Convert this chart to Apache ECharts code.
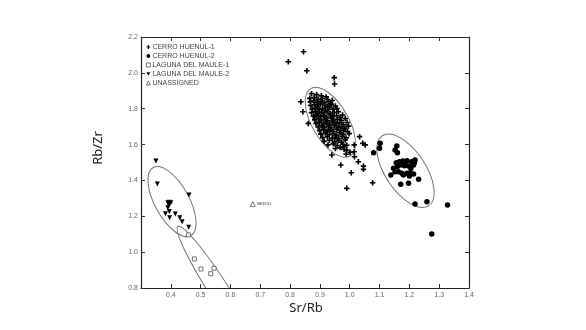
<!DOCTYPE html>
<html>
<head>
<meta charset="utf-8">
<script src="https://cdn.jsdelivr.net/npm/echarts@6/dist/echarts.min.js"></script>
<style>
  html, body { margin: 0; padding: 0; background: #fff; }
  #chart { width: 586px; height: 330px; }
</style>
</head>
<body>
<div id="chart"></div>
<script>
// axis ticks
const xTicks = { min: 0.3, max: 1.4, step: 0.1 };
const yTicks = { min: 0.8, max: 2.2, step: 0.2 };

const legendNames = ["CERRO HUENUL-1", "CERRO HUENUL-2", "LAGUNA DEL MAULE-1", "LAGUNA DEL MAULE-2", "UNASSIGNED"];

// Sr/Rb, Rb/Zr pairs
const cerroHuenul1 = [
  [0.794, 2.062], [0.845, 2.118], [0.856, 2.012], [0.948, 1.973], [0.949, 1.938],
  [0.836, 1.839], [0.843, 1.783], [0.861, 1.718],
  [0.872, 1.884], [0.889, 1.879], [0.905, 1.872], [0.921, 1.866],
  [0.866, 1.858], [0.881, 1.862], [0.894, 1.853], [0.908, 1.857], [0.926, 1.851], [0.941, 1.846],
  [0.868, 1.838], [0.879, 1.844], [0.891, 1.835], [0.903, 1.841], [0.914, 1.834], [0.928, 1.839], [0.937, 1.829],
  [0.869, 1.818], [0.882, 1.823], [0.894, 1.814], [0.902, 1.826], [0.917, 1.819], [0.925, 1.812], [0.938, 1.822], [0.952, 1.815],
  [0.874, 1.798], [0.886, 1.804], [0.897, 1.795], [0.909, 1.802], [0.918, 1.793], [0.931, 1.806], [0.944, 1.797], [0.957, 1.801],
  [0.872, 1.778], [0.884, 1.784], [0.893, 1.774], [0.906, 1.781], [0.915, 1.776], [0.927, 1.785], [0.936, 1.772], [0.948, 1.779], [0.962, 1.783],
  [0.878, 1.758], [0.889, 1.764], [0.901, 1.755], [0.912, 1.762], [0.922, 1.753], [0.934, 1.766], [0.943, 1.757], [0.956, 1.761], [0.968, 1.752], [0.976, 1.765],
  [0.883, 1.738], [0.895, 1.744], [0.904, 1.735], [0.917, 1.742], [0.926, 1.733], [0.938, 1.746], [0.947, 1.737], [0.959, 1.741], [0.972, 1.734], [0.985, 1.745],
  [0.887, 1.718], [0.898, 1.724], [0.911, 1.715], [0.921, 1.722], [0.933, 1.713], [0.942, 1.726], [0.954, 1.717], [0.966, 1.721], [0.978, 1.712], [0.991, 1.723],
  [0.894, 1.698], [0.906, 1.704], [0.915, 1.695], [0.928, 1.702], [0.937, 1.693], [0.949, 1.706], [0.961, 1.697], [0.973, 1.701], [0.984, 1.692], [0.996, 1.703],
  [0.899, 1.678], [0.912, 1.684], [0.924, 1.675], [0.935, 1.682], [0.946, 1.673], [0.957, 1.686], [0.969, 1.677], [0.981, 1.681], [0.993, 1.672],
  [0.903, 1.658], [0.918, 1.664], [0.931, 1.655], [0.944, 1.662], [0.955, 1.653], [0.967, 1.666], [0.978, 1.657], [0.998, 1.661],
  [0.909, 1.638], [0.925, 1.644], [0.941, 1.635], [0.952, 1.642], [0.963, 1.633], [0.975, 1.646], [0.988, 1.637],
  [0.914, 1.618], [0.932, 1.624], [0.948, 1.615], [0.961, 1.622], [0.972, 1.613], [0.985, 1.626],
  [0.927, 1.598], [0.945, 1.604], [0.958, 1.595], [0.977, 1.602], [0.990, 1.596],
  [0.952, 1.578], [0.968, 1.583], [0.981, 1.574],
  [0.940, 1.542], [0.970, 1.486], [0.990, 1.356], [1.005, 1.443], [1.016, 1.532], [1.029, 1.504],
  [1.046, 1.480], [1.046, 1.462], [1.077, 1.387], [0.988, 1.547], [1.001, 1.557], [1.015, 1.560],
  [1.015, 1.598], [1.033, 1.644], [1.044, 1.607], [1.052, 1.598], [0.990, 1.570], [0.979, 1.588]
];

const cerroHuenul2 = [
  [1.102, 1.607], [1.100, 1.579], [1.080, 1.555], [1.158, 1.592], [1.152, 1.570], [1.160, 1.555],
  [1.156, 1.499], [1.167, 1.504], [1.178, 1.508], [1.192, 1.510], [1.208, 1.504], [1.217, 1.499],
  [1.219, 1.514], [1.186, 1.499], [1.160, 1.477], [1.169, 1.486], [1.183, 1.482], [1.197, 1.480],
  [1.214, 1.486], [1.205, 1.468], [1.147, 1.468], [1.152, 1.449], [1.163, 1.449], [1.175, 1.440],
  [1.192, 1.440], [1.203, 1.443], [1.214, 1.436], [1.200, 1.425], [1.180, 1.430], [1.138, 1.430],
  [1.231, 1.406], [1.171, 1.378], [1.197, 1.384], [1.219, 1.268], [1.259, 1.281], [1.328, 1.263],
  [1.275, 1.101]
];

const lagunaMaule1 = [
  [0.459, 1.096], [0.479, 0.962], [0.501, 0.906], [0.534, 0.880], [0.545, 0.910]
];

const lagunaMaule2 = [
  [0.350, 1.508], [0.355, 1.380], [0.461, 1.319], [0.390, 1.276], [0.395, 1.278], [0.400, 1.276],
  [0.394, 1.261], [0.390, 1.248], [0.395, 1.226], [0.382, 1.214], [0.396, 1.192], [0.415, 1.213],
  [0.430, 1.192], [0.438, 1.170], [0.460, 1.139]
];

const unassigned = [[0.675, 1.268, "NE3531"]];

// group ellipses: centre x, centre y, end of major axis x, y, minor/major ratio
const ellipses = [
  [0.935, 1.724, 1.001, 1.536, 0.465],
  [1.187, 1.454, 1.265, 1.259, 0.48],
  [0.404, 1.282, 0.467, 1.092, 0.44],
  [0.562, 0.785, 0.424, 1.143, 0.13]
];

const ink = "#000";
const plus = "path://M3.5,0 L6.5,0 L6.5,3.5 L10,3.5 L10,6.5 L6.5,6.5 L6.5,10 L3.5,10 L3.5,6.5 L0,6.5 L0,3.5 L3.5,3.5 Z";
const downTri = "path://M0,0 L10,0 L5,9 Z";
const solid = { color: ink, opacity: 1 };
const hollow = { color: "#fff", borderColor: "#555", borderWidth: 0.8, opacity: 1 };

const chart = echarts.init(document.getElementById("chart"), null, { renderer: "canvas" });

const tickFmt = v => v.toFixed(1);
const axisLine = { show: true, lineStyle: { color: "#222", width: 1.2 } };
const axisTick = { show: true, inside: true, length: 4, lineStyle: { color: "#333", width: 1 } };

const option = {
  backgroundColor: "#fff",
  animation: false,
  textStyle: { fontFamily: "Liberation Sans, Arial, sans-serif" },
  grid: { left: 141, right: 117, top: 37, bottom: 42, containLabel: false },
  legend: {
    data: [
      { name: legendNames[0], icon: plus },
      { name: legendNames[1], icon: "circle" },
      { name: legendNames[2], icon: "rect", itemStyle: hollow },
      { name: legendNames[3], icon: downTri },
      { name: legendNames[4], icon: "triangle", itemStyle: hollow }
    ],
    orient: "vertical",
    left: 146,
    top: 43,
    itemWidth: 4,
    itemHeight: 4,
    itemGap: 1,
    padding: 0,
    textStyle: { fontSize: 7, color: "#444", padding: [0, 0, 0, -3], lineHeight: 8 },
    selectedMode: false
  },
  xAxis: [
    {
      type: "value", position: "bottom",
      min: xTicks.min, max: xTicks.max, interval: xTicks.step,
      axisLine, axisTick, splitLine: { show: false },
      axisLabel: { formatter: tickFmt, fontSize: 7, color: "#666", margin: 4, showMinLabel: false }
    },
    {
      type: "value", position: "top",
      min: xTicks.min, max: xTicks.max, interval: xTicks.step,
      axisLine, axisTick, splitLine: { show: false }, axisLabel: { show: false }
    }
  ],
  yAxis: [
    {
      type: "value", position: "left",
      min: yTicks.min, max: yTicks.max, interval: yTicks.step,
      axisLine, axisTick, splitLine: { show: false },
      axisLabel: { formatter: tickFmt, fontSize: 7, color: "#666", margin: 3 }
    },
    {
      type: "value", position: "right",
      min: yTicks.min, max: yTicks.max, interval: yTicks.step,
      axisLine, axisTick, splitLine: { show: false }, axisLabel: { show: false }
    }
  ],
  graphic: [
    {
      type: "text", x: 98, y: 148, rotation: Math.PI / 2,
      style: { text: "Rb/Zr", fontSize: 13, fill: "#222", align: "center", verticalAlign: "middle", fontFamily: "Noto Sans" }
    },
    {
      type: "text", x: 306, y: 308,
      style: { text: "Sr/Rb", fontSize: 13, fill: "#222", align: "center", verticalAlign: "middle", fontFamily: "Noto Sans" }
    }
  ],
  series: [
    {
      name: "ellipses",
      type: "custom",
      clip: true,
      silent: true,
      encode: { x: [0, 2], y: [1, 3] },
      data: ellipses,
      renderItem: (params, api) => {
        const c = api.coord([api.value(0), api.value(1)]);
        const e = api.coord([api.value(2), api.value(3)]);
        const dx = e[0] - c[0], dy = e[1] - c[1];
        const a = Math.hypot(dx, dy);
        return {
          type: "ellipse",
          x: c[0], y: c[1],
          rotation: -Math.atan2(dy, dx),
          shape: { cx: 0, cy: 0, rx: a, ry: a * api.value(4) },
          style: { fill: "none", stroke: "#777", lineWidth: 1 }
        };
      },
      z: 1
    },
    {
      name: legendNames[0], type: "scatter", data: cerroHuenul1,
      symbol: plus, symbolSize: 5.5, itemStyle: solid, z: 3
    },
    {
      name: legendNames[1], type: "scatter", data: cerroHuenul2,
      symbol: "circle", symbolSize: 5.5, itemStyle: solid, z: 3
    },
    {
      name: legendNames[2], type: "scatter", data: lagunaMaule1,
      symbol: "rect", symbolSize: 4, itemStyle: hollow, z: 3
    },
    {
      name: legendNames[3], type: "scatter", data: lagunaMaule2,
      symbol: downTri, symbolSize: 5, itemStyle: solid, z: 3
    },
    {
      name: legendNames[4], type: "scatter", data: unassigned,
      symbol: "triangle", symbolSize: 5, itemStyle: hollow,
      label: { show: true, position: "right", distance: 1, formatter: p => p.value[2], fontSize: 4, color: "#333" },
      z: 3
    }
  ]
};

chart.setOption(option);
</script>
</body>
</html>
